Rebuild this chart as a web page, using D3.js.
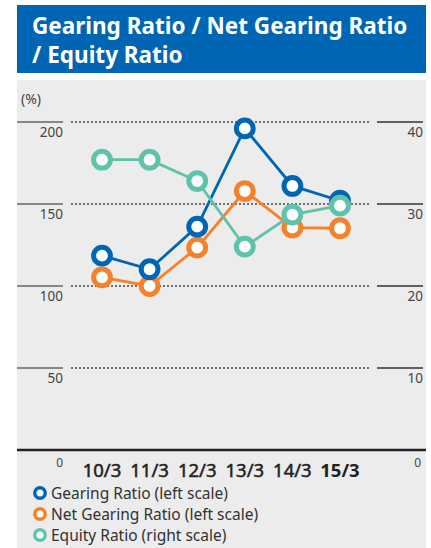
<!DOCTYPE html>
<html>
<head>
<meta charset="utf-8">
<script src="https://cdn.jsdelivr.net/npm/d3@7/dist/d3.min.js"></script>
<style>
  html, body { margin: 0; padding: 0; background: #fff; }
  svg { display: block; font-family: "Noto Sans", "Open Sans", sans-serif; }
</style>
</head>
<body>
<svg id="chart" width="431" height="548"></svg>
<script>
"use strict";

var categories = ["10/3", "11/3", "12/3", "13/3", "14/3", "15/3"];
var gearingRatio = [118.5, 110.2, 136.2, 196.1, 161.0, 152.0];
var netGearingRatio = [105.3, 100.0, 123.4, 157.9, 135.6, 135.2];
var equityRatio = [35.4, 35.4, 32.8, 24.8, 28.7, 29.8];
var leftTicks = [0, 50, 100, 150, 200];
var rightTicks = [0, 10, 20, 30, 40];
var legendLabels = ["Gearing Ratio (left scale)", "Net Gearing Ratio (left scale)", "Equity Ratio (right scale)"];

var BLUE = "#0066b3", ORANGE = "#f5822a", GREEN = "#5fc3ab";

var svg = d3.select("#chart");

// title block
svg.append("rect").attr("x", 17).attr("y", 5).attr("width", 409).attr("height", 68).attr("fill", BLUE);
svg.append("text").attr("x", 32).attr("y", 34).attr("fill", "#fff")
  .attr("font-size", 22.5).attr("font-weight", "bold").text("Gearing Ratio / Net Gearing Ratio");
svg.append("text").attr("x", 32).attr("y", 63).attr("fill", "#fff")
  .attr("font-size", 22.5).attr("font-weight", "bold").text("/ Equity Ratio");

// panel
svg.append("rect").attr("x", 17).attr("y", 80).attr("width", 409).attr("height", 468).attr("fill", "#ebeceb");

var x = d3.scalePoint().domain(categories).range([102, 340]);
var yLeft = d3.scaleLinear().domain([0, 200]).range([450, 122]);
var yRight = d3.scaleLinear().domain([0, 40]).range([450, 122]);

svg.append("text").attr("x", 21).attr("y", 104).attr("font-size", 14).attr("fill", "#444").text("(%)");

// grid + ticks
leftTicks.filter(function (d) { return d > 0; }).forEach(function (d) {
  var y = yLeft(d);
  svg.append("line").attr("x1", 71).attr("x2", 370).attr("y1", y).attr("y2", y)
    .attr("stroke", "#444").attr("stroke-width", 1.3).attr("stroke-dasharray", "2,2");
  svg.append("line").attr("x1", 17).attr("x2", 63).attr("y1", y).attr("y2", y)
    .attr("stroke", "#666").attr("stroke-width", 1.3);
  svg.append("text").attr("x", 63).attr("y", y + 15).attr("text-anchor", "end")
    .attr("font-size", 13.5).attr("fill", "#444").text(d);
});
rightTicks.filter(function (d) { return d > 0; }).forEach(function (d) {
  var y = yRight(d);
  svg.append("line").attr("x1", 377).attr("x2", 423).attr("y1", y).attr("y2", y)
    .attr("stroke", "#333").attr("stroke-width", 1.3);
  svg.append("text").attr("x", 423).attr("y", y + 15).attr("text-anchor", "end")
    .attr("font-size", 13.5).attr("fill", "#444").text(d);
});

// zero line
svg.append("line").attr("x1", 17).attr("x2", 426).attr("y1", yLeft(0)).attr("y2", yLeft(0))
  .attr("stroke", "#222").attr("stroke-width", 2.5);
svg.append("text").attr("x", 63).attr("y", 467).attr("text-anchor", "end")
  .attr("font-size", 12).attr("fill", "#444").text(leftTicks[0]);
svg.append("text").attr("x", 421).attr("y", 467).attr("text-anchor", "end")
  .attr("font-size", 12).attr("fill", "#444").text(rightTicks[0]);

// category labels, last one bold
svg.selectAll("text.cat").data(categories).enter().append("text")
  .attr("class", "cat")
  .attr("x", function (d) { return x(d); })
  .attr("y", 477)
  .attr("text-anchor", "middle")
  .attr("font-size", 18.5)
  .attr("font-weight", function (d, i) { return i === categories.length - 1 ? "bold" : "normal"; })
  .attr("fill", "#222")
  .attr("stroke", "#222")
  .attr("stroke-width", function (d, i) { return i === categories.length - 1 ? 0 : 0.5; })
  .text(function (d) { return d; });

var series = [
  { values: gearingRatio, scale: yLeft, color: BLUE },
  { values: netGearingRatio, scale: yLeft, color: ORANGE },
  { values: equityRatio, scale: yRight, color: GREEN }
];

series.forEach(function (s) {
  var line = d3.line()
    .x(function (d, i) { return x(categories[i]); })
    .y(function (d) { return s.scale(d); });
  svg.append("path").datum(s.values).attr("d", line)
    .attr("fill", "none").attr("stroke", s.color).attr("stroke-width", 2.8);
});

// circles: orange, blue, green on top
[series[1], series[0], series[2]].forEach(function (s) {
  svg.selectAll(null).data(s.values).enter().append("circle")
    .attr("cx", function (d, i) { return x(categories[i]); })
    .attr("cy", function (d) { return s.scale(d); })
    .attr("r", 8.4)
    .attr("fill", "#fff")
    .attr("stroke", s.color)
    .attr("stroke-width", 5);
});

// legend
var legendColors = [BLUE, ORANGE, GREEN];
legendLabels.forEach(function (label, i) {
  var y = 493 + i * 21;
  svg.append("circle").attr("cx", 40).attr("cy", y).attr("r", 5.2)
    .attr("fill", "#fff").attr("stroke", legendColors[i]).attr("stroke-width", 3.4);
  svg.append("text").attr("x", 51).attr("y", y + 5.5)
    .attr("font-size", 15.5).attr("fill", "#333").text(label);
});
</script>
</body>
</html>
